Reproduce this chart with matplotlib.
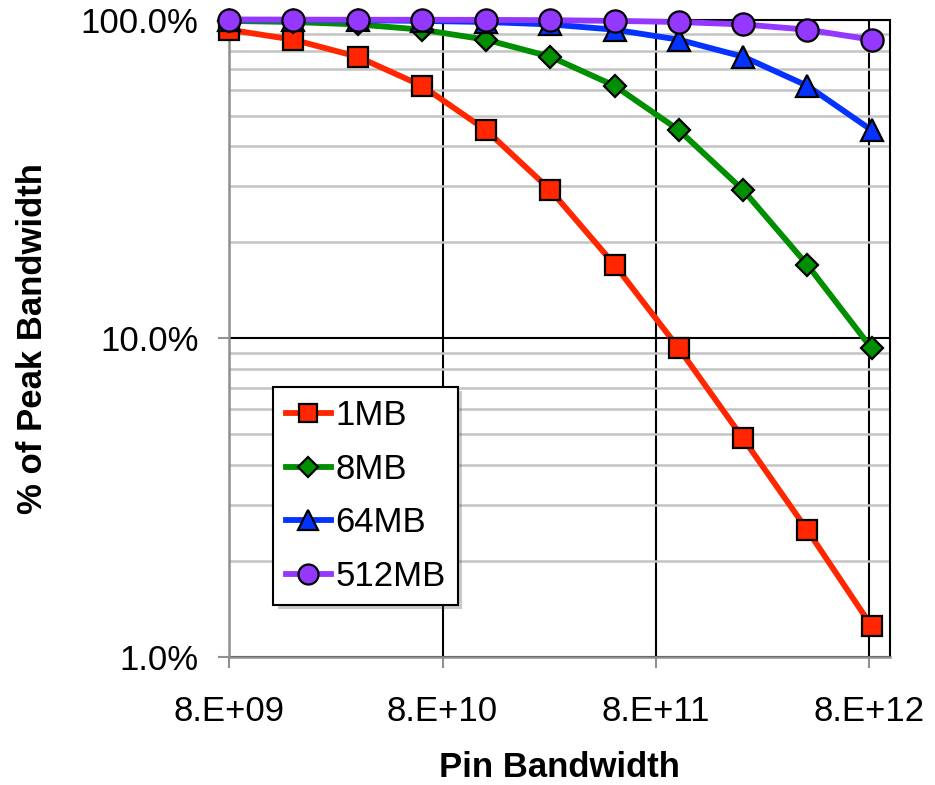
import numpy as np
import matplotlib.pyplot as plt
from matplotlib.ticker import FixedLocator, FixedFormatter, NullFormatter
import matplotlib.patheffects as pe

plt.rcParams['font.family'] = ['Liberation Sans', 'DejaVu Sans']

# Pin bandwidth values (x axis)
pin_bw = [8e9, 1.6e10, 3.2e10, 6.4e10, 1.28e11, 2.56e11, 5.12e11,
          1.024e12, 2.048e12, 4.096e12, 8.192e12]

# % of peak bandwidth per cache size
pct_1mb = [93.0, 86.5, 76.5, 62.0, 45.0, 29.2, 17.0, 9.3, 4.85, 2.5, 1.25]
pct_8mb = [99.1, 98.3, 96.6, 93.0, 86.5, 76.5, 62.0, 45.0, 29.2, 17.0, 9.3]
pct_64mb = [99.9, 99.8, 99.6, 99.1, 98.3, 96.6, 93.0, 86.5, 76.5, 62.0, 45.0]
pct_512mb = [100.0, 100.0, 99.9, 99.9, 99.8, 99.6, 99.1, 98.3, 96.6, 93.0, 86.5]

series = [
    ('1MB', pct_1mb, '#FF2600', 's', 15),
    ('8MB', pct_8mb, '#008F00', 'D', 11),
    ('64MB', pct_64mb, '#0433FF', '^', 16),
    ('512MB', pct_512mb, '#9437FF', 'o', 16),
]

fig = plt.figure(figsize=(9.35, 7.85), dpi=100)
ax = fig.add_axes([0.245, 0.163, 0.707, 0.812])

for name, vals, color, marker, ms in series:
    ax.plot(pin_bw, vals, color=color, lw=4.2, marker=marker, markersize=ms,
            markerfacecolor=color, markeredgecolor='black', markeredgewidth=1.6,
            label=name, clip_on=False, zorder=3)

ax.set_xscale('log')
ax.set_yscale('log')
ax.set_xlim(8e9, 1e13)
ax.set_ylim(1, 100)

xt = [8e9, 8e10, 8e11, 8e12]
ax.xaxis.set_major_locator(FixedLocator(xt))
ax.xaxis.set_major_formatter(FixedFormatter(['8.E+09', '8.E+10', '8.E+11', '8.E+12']))
ax.xaxis.set_minor_locator(FixedLocator([]))
yt = [1, 10, 100]
ax.yaxis.set_major_locator(FixedLocator(yt))
ax.yaxis.set_major_formatter(FixedFormatter(['1.0%', '10.0%', '100.0%']))
minor_y = [m * d for d in (1, 10) for m in range(2, 10)]
ax.yaxis.set_minor_locator(FixedLocator(minor_y))
ax.yaxis.set_minor_formatter(NullFormatter())

ax.grid(True, which='minor', axis='y', color='#c4c4c4', lw=1.8, zorder=0)
ax.grid(True, which='major', axis='both', color='black', lw=1.5, zorder=1)

ax.tick_params(axis='both', which='major', labelsize=25, length=8, width=1.5,
               color='#909090', direction='out')
ax.tick_params(axis='x', which='major', pad=19)
ax.tick_params(axis='y', which='major', pad=14)
ax.tick_params(axis='y', which='minor', length=0)

for side in ('left', 'bottom'):
    ax.spines[side].set_color('#909090')
    ax.spines[side].set_linewidth(1.8)
for side in ('top', 'right'):
    ax.spines[side].set_color('black')
    ax.spines[side].set_linewidth(1.5)

ax.set_xlabel('Pin Bandwidth', fontsize=25, fontweight='bold')
ax.set_ylabel('% of Peak Bandwidth', fontsize=25, fontweight='bold')
ax.xaxis.set_label_coords(0.5, -0.147)
ax.yaxis.set_label_coords(-0.272, 0.5)

leg = ax.legend(loc='upper left', bbox_to_anchor=(0.067, 0.424), fontsize=25,
                frameon=True, fancybox=False, edgecolor='black', framealpha=1,
                borderaxespad=0, handlelength=1.3, handletextpad=0.12,
                labelspacing=0.59, borderpad=0.36, markerscale=0.9)
leg.get_frame().set_linewidth(1.5)
leg.get_frame().set_path_effects([pe.SimplePatchShadow(offset=(3, -3), alpha=0.3), pe.Normal()])
leg.set_zorder(5)

fig.savefig('out.png', dpi=100)
